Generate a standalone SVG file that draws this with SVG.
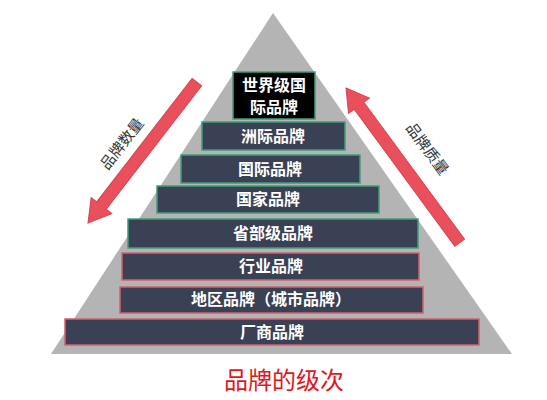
<svg xmlns="http://www.w3.org/2000/svg" width="547" height="400" viewBox="0 0 547 400">
<style>
.box{fill:#3a4154;stroke-width:1.5}
.g{stroke:#3f9f78}
.r{stroke:#d4606c}
.t{font-family:"Noto Sans CJK SC","Liberation Sans",sans-serif;font-weight:bold;font-size:16px;fill:#ffffff;text-anchor:middle}
.arr{fill:#ea505c;stroke:#d44450;stroke-width:1}
.lab{font-family:"Noto Sans CJK SC",sans-serif;font-size:15px;fill:#333333;text-anchor:middle}
</style>
<rect width="547" height="400" fill="#ffffff"/>
<polygon id="pyramid" points="273,13 512,354 51,354" fill="#b4b4b4"/>
<g id="connectors">
<polygon class="arr" transform="translate(88,223) rotate(127.7)" points="0,0 -22,-13 -22,-6 -178,-6 -178,6 -22,6 -22,13"/>
<polygon class="arr" transform="translate(346,88) rotate(-126.3)" points="0,0 -22,-13 -22,-6 -192,-6 -192,6 -22,6 -22,13"/>
</g>
<g id="label-left"><text class="lab" transform="translate(126,147) rotate(-52.3)">品牌数量</text></g>
<g id="label-right"><text class="lab" transform="translate(423,152) rotate(53.7)">品牌质量</text></g>
<g id="n1"><rect class="g" x="233" y="72" width="82" height="47" fill="#000000" stroke-width="1.5"/><text class="t" x="274" y="91" font-size="15">世界级国</text><text class="t" x="274" y="113" font-size="15">际品牌</text></g>
<g id="n2"><rect class="box g" x="202" y="122" width="143" height="28"/><text class="t" x="273" y="142">洲际品牌</text></g>
<g id="n3"><rect class="box g" x="181" y="155" width="179" height="28"/><text class="t" x="270" y="175">国际品牌</text></g>
<g id="n4"><rect class="box g" x="157" y="186" width="222" height="27"/><text class="t" x="268" y="205">国家品牌</text></g>
<g id="n5"><rect class="box g" x="128" y="219" width="290" height="29"/><text class="t" x="273" y="239">省部级品牌</text></g>
<g id="n6"><rect class="box r" x="122" y="253" width="297" height="27"/><text class="t" x="271" y="272">行业品牌</text></g>
<g id="n7"><rect class="box r" x="120" y="287" width="303" height="26"/><text class="t" x="271" y="305">地区品牌（城市品牌）</text></g>
<g id="n8"><rect class="box r" x="65" y="319" width="414" height="26"/><text class="t" x="272" y="338">厂商品牌</text></g>
<text x="284" y="389" font-family="'Noto Sans CJK SC',sans-serif" font-size="24" fill="#e3161c" text-anchor="middle">品牌的级次</text>
</svg>
